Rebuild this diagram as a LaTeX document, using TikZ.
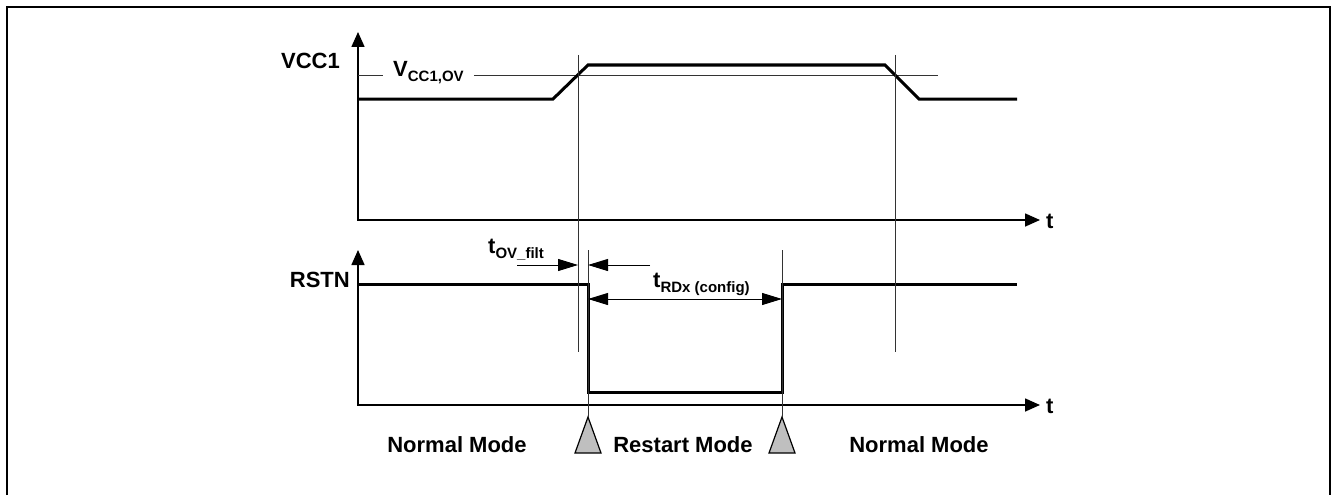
\documentclass[tikz,border=0pt]{standalone}
\usepackage{fontspec}
\setmainfont{Liberation Sans}
\usetikzlibrary{arrows.meta}
\tikzset{every node/.style={font=\fontsize{22}{26}\selectfont\bfseries,inner sep=0pt}}
\tikzset{sig/.style={line width=3pt,line join=miter}}
\tikzset{axisline/.style={line width=1.6pt,{Triangle[length=15pt,width=13pt]}-{Triangle[length=15pt,width=13pt]}}}
\tikzset{marker/.style={line width=0.9pt,black!80}}
\tikzset{dimarrow/.style={line width=1pt,-{Triangle[length=20pt,width=12pt]}}}
\tikzset{dimboth/.style={line width=1pt,{Triangle[length=20pt,width=12pt]}-{Triangle[length=20pt,width=12pt]}}}
\tikzset{modetri/.style={draw,line width=1.2pt,fill=black!25,line join=miter}}
\newcommand{\lowtext}[1]{\raisebox{-5pt}{\fontsize{15}{15}\selectfont #1}}

\begin{document}
\begin{tikzpicture}[x=1pt,y=-1pt]
\useasboundingbox (0,0) rectangle (1332,495);

% frame, open at the bottom
\draw[line width=1.5pt] (7,495) -- (7,7) -- (1330,7) -- (1330,495);

% axes of both signals
\coordinate (vtop) at (358,32);
\coordinate (vend) at (1040,220);
\coordinate (rtop) at (358,250);
\coordinate (rend) at (1040,405);
\draw[axisline] (vtop) |- (vend);
\draw[axisline] (rtop) |- (rend);

\node[anchor=base east] (vcc) at (340,68) {VCC1};
\node[anchor=base east] (rstn) at (350,287) {RSTN};
\node[anchor=base west] (tv) at (1046,228) {t};
\node[anchor=base west] (tr) at (1046,413) {t};

% overvoltage threshold
\node[anchor=west,inner xsep=10pt] (vov) at (383,73) {V\lowtext{CC1,OV}};
\coordinate (thl) at (358,75);
\coordinate (thr) at (938,75);
\draw[marker] (thl) -- (thl -| vov.west);
\draw[marker] (thl -| vov.east) -- (thr);

% VCC1 waveform
\draw[sig] (358,99) -- (553,99) -- (588,65) -- (885,65) -- (919,99) -- (1017,99);

% RSTN waveform
\draw[sig] (358,284) -- (588,284) -- (588,392) -- (782,392) -- (782,284) -- (1017,284);

% thin time markers
\draw[marker] (578,55) -- (578,352);
\draw[marker] (895,55) -- (895,352);

% mode change triangles with their markers
\foreach \x/\n in {588/a,782/b} {
  \draw[modetri] (\x-13,453) -- (\x,417) coordinate (tip\n) -- (\x+13,453) -- cycle;
  \draw[marker] (\x,250) -- (tip\n);
}

% filter time
\node[anchor=base west] (tovf) at (488,253) {t\lowtext{OV\_filt}};
\coordinate (fa) at (517,265);
\coordinate (fb) at (578,265);
\coordinate (fc) at (588,265);
\coordinate (fd) at (650,265);
\draw[dimarrow] (fa) -- (fb);
\draw[dimarrow] (fd) -- (fc);

% restart delay time
\node[anchor=base west] (trd) at (653,287) {t\lowtext{RDx (config)}};
\coordinate (ra) at (588,299);
\coordinate (rb) at (782,299);
\draw[dimboth] (ra) -- (rb);

% mode labels
\node[anchor=base] (nm1) at (457,452) {Normal Mode};
\node[anchor=base] (rm) at (683,452) {Restart Mode};
\node[anchor=base] (nm2) at (919,452) {Normal Mode};

\end{tikzpicture}
\end{document}
